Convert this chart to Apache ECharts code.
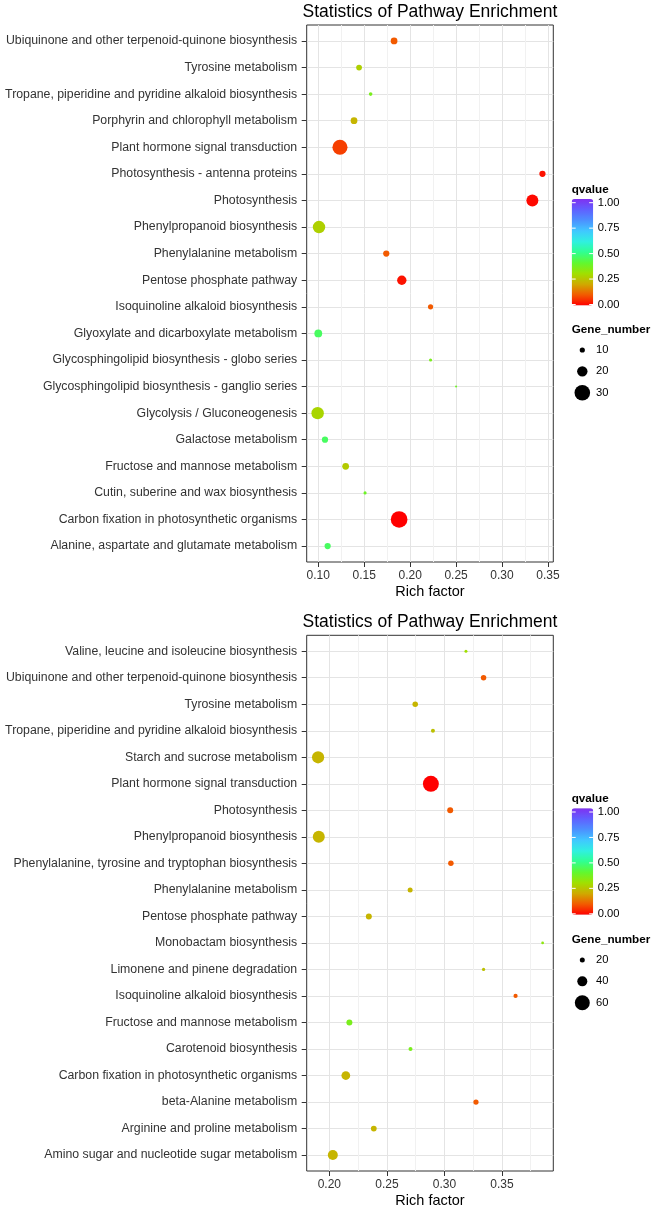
<!DOCTYPE html>
<html><head><meta charset="utf-8">
<script src="https://cdn.jsdelivr.net/npm/echarts@6/dist/echarts.min.js"></script>
<style>html,body{margin:0;padding:0;background:#fff}#c{width:655px;height:1209px}</style>
</head><body><div id="c"></div>
<script>
// ---------- DATA ----------
const titleText = 'Statistics of Pathway Enrichment';
const xName = 'Rich factor';
const qName = 'qvalue';
const sizeName = 'Gene_number';

const cats1 = [
  'Ubiquinone and other terpenoid-quinone biosynthesis',
  'Tyrosine metabolism',
  'Tropane, piperidine and pyridine alkaloid biosynthesis',
  'Porphyrin and chlorophyll metabolism',
  'Plant hormone signal transduction',
  'Photosynthesis - antenna proteins',
  'Photosynthesis',
  'Phenylpropanoid biosynthesis',
  'Phenylalanine metabolism',
  'Pentose phosphate pathway',
  'Isoquinoline alkaloid biosynthesis',
  'Glyoxylate and dicarboxylate metabolism',
  'Glycosphingolipid biosynthesis - globo series',
  'Glycosphingolipid biosynthesis - ganglio series',
  'Glycolysis / Gluconeogenesis',
  'Galactose metabolism',
  'Fructose and mannose metabolism',
  'Cutin, suberine and wax biosynthesis',
  'Carbon fixation in photosynthetic organisms',
  'Alanine, aspartate and glutamate metabolism'
];
const rich1  = [0.1825, 0.1444, 0.157, 0.1389, 0.1236, 0.344, 0.333, 0.1008, 0.174, 0.1909,
                0.2222, 0.100, 0.2222, 0.25, 0.0993, 0.1073, 0.1298, 0.1509, 0.188, 0.1102];
const q1     = [0.10, 0.27, 0.36, 0.22, 0.07, 0.02, 0.01, 0.27, 0.10, 0.02,
                0.10, 0.45, 0.36, 0.38, 0.28, 0.45, 0.26, 0.38, 0.00, 0.45];
const genes1 = [13, 11, 7, 13, 29, 12, 23, 24, 12, 18,
                10, 15, 6, 4, 24, 12, 13, 6, 32, 12];
const xTicks1 = [0.10, 0.15, 0.20, 0.25, 0.30, 0.35];
const xMinor1 = [0.125, 0.175, 0.225, 0.275, 0.325];
const sizeLegend1 = [10, 20, 30];

const cats2 = [
  'Valine, leucine and isoleucine biosynthesis',
  'Ubiquinone and other terpenoid-quinone biosynthesis',
  'Tyrosine metabolism',
  'Tropane, piperidine and pyridine alkaloid biosynthesis',
  'Starch and sucrose metabolism',
  'Plant hormone signal transduction',
  'Photosynthesis',
  'Phenylpropanoid biosynthesis',
  'Phenylalanine, tyrosine and tryptophan biosynthesis',
  'Phenylalanine metabolism',
  'Pentose phosphate pathway',
  'Monobactam biosynthesis',
  'Limonene and pinene degradation',
  'Isoquinoline alkaloid biosynthesis',
  'Fructose and mannose metabolism',
  'Carotenoid biosynthesis',
  'Carbon fixation in photosynthetic organisms',
  'beta-Alanine metabolism',
  'Arginine and proline metabolism',
  'Amino sugar and nucleotide sugar metabolism'
];
const rich2  = [0.3187, 0.334, 0.2746, 0.290, 0.1902, 0.2882, 0.305, 0.1908, 0.3056, 0.2702,
                0.2343, 0.3853, 0.334, 0.3618, 0.2174, 0.2705, 0.2143, 0.3274, 0.2386, 0.203];
const q2     = [0.30, 0.10, 0.22, 0.24, 0.22, 0.00, 0.10, 0.22, 0.10, 0.22,
                0.22, 0.33, 0.24, 0.10, 0.36, 0.36, 0.22, 0.10, 0.22, 0.22];
const genes2 = [12, 22, 22, 16, 49, 64, 24, 48, 22, 20,
                24, 11, 13, 17, 24, 16, 35, 21, 23, 40];
const xTicks2 = [0.20, 0.25, 0.30, 0.35];
const xMinor2 = [0.225, 0.275, 0.325, 0.375];
const sizeLegend2 = [20, 40, 60];

const qTicks = [0, 0.25, 0.5, 0.75, 1];

// ---------- STYLE / LAYOUT ----------
const FONT = '"Liberation Sans", Arial, Helvetica, sans-serif';
const qColors = ['#FF0000','#F25A00','#CFAA00','#A0E000','#60F830','#30FF90',
                 '#30F0E0','#40C8FF','#4C90FF','#6060FF','#8030F0'];
const gridLeft = 306.7, gridWidth = 246.6;
const panels = [
  { cats: cats1, rich: rich1, q: q1, genes: genes1, xTicks: xTicks1, xMinor: xMinor1,
    sizeLegend: sizeLegend1, xmin: 0.0874, xmax: 0.3558, k: 0.52,
    top: 25, height: 537, titleY: 12, qTitleY: 189.5, barTop: 199, sizeTitleY: 330, sizeY0: 350 },
  { cats: cats2, rich: rich2, q: q2, genes: genes2, xTicks: xTicks2, xMinor: xMinor2,
    sizeLegend: sizeLegend2, xmin: 0.1803, xmax: 0.3946, k: 0.25,
    top: 635.3, height: 536.4, titleY: 622, qTitleY: 799, barTop: 808.3, sizeTitleY: 939.3, sizeY0: 960 }
];
const barLeft = 571.7, barW = 21.5, barH = 106.5;

const grids = [], xAxes = [], yAxes = [], series = [], visualMaps = [], graphics = [];
panels.forEach((p, pi) => {
  grids.push({ left: gridLeft, top: p.top, width: gridWidth, height: p.height, show: true,
    backgroundColor: '#fff', borderColor: '#333', borderWidth: 1 });
  const idx = p.cats.map((_, i) => i);
  xAxes.push({
    type: 'value', gridIndex: pi, min: p.xmin, max: p.xmax, position: 'bottom',
    axisLine: { show: false, onZero: false },
    axisTick: { show: true, customValues: p.xTicks, length: 5, lineStyle: { color: '#333' } },
    axisLabel: { customValues: p.xTicks, formatter: v => (+v).toFixed(2), fontSize: 12,
      color: '#333', margin: 8, fontFamily: FONT },
    splitLine: { show: true, customValues: p.xTicks, lineStyle: { color: '#E4E4E4', width: 1 } },
    name: xName, nameLocation: 'middle', nameGap: 22,
    nameTextStyle: { fontSize: 14.5, color: '#000', fontFamily: FONT }
  });
  xAxes.push({
    type: 'value', gridIndex: pi, min: p.xmin, max: p.xmax, position: 'top',
    axisLine: { show: false, onZero: false },
    axisTick: { show: false, customValues: p.xMinor },
    axisLabel: { show: false, customValues: p.xMinor },
    splitLine: { show: true, customValues: p.xMinor, lineStyle: { color: '#F1F1F1', width: 1 } }
  });
  yAxes.push({
    type: 'value', gridIndex: pi, min: -0.6, max: p.cats.length - 0.4, inverse: true,
    axisLine: { show: false, onZero: false },
    axisTick: { show: true, customValues: idx, length: 5, lineStyle: { color: '#333' } },
    axisLabel: { customValues: idx, formatter: v => p.cats[Math.round(v)], fontSize: 12.3,
      color: '#333', margin: 9.5, fontFamily: FONT },
    splitLine: { show: true, customValues: idx, lineStyle: { color: '#E4E4E4', width: 1 } }
  });
  series.push({
    type: 'scatter', xAxisIndex: pi * 2, yAxisIndex: pi,
    data: p.rich.map((r, i) => [r, i, p.q[i], p.genes[i]]),
    symbol: 'circle',
    symbolSize: (v => v[3] * p.k),
    itemStyle: { opacity: 1 },
    emphasis: { disabled: true }
  });
  visualMaps.push({
    type: 'continuous', seriesIndex: pi, dimension: 2, min: 0, max: 1,
    inRange: { color: qColors }, calculable: false, hoverLink: false,
    left: barLeft, top: p.barTop, itemWidth: barW, itemHeight: barH, padding: 0,
    orient: 'vertical', text: null
  });
  graphics.push({ type: 'text', x: gridLeft + gridWidth / 2, y: p.titleY,
    style: { text: titleText, font: '17.5px ' + FONT, fill: '#000', textAlign: 'center', textVerticalAlign: 'middle' } });
  graphics.push({ type: 'text', x: barLeft, y: p.qTitleY,
    style: { text: qName, font: 'bold 11.7px ' + FONT, fill: '#000', textAlign: 'left', textVerticalAlign: 'middle' } });
  qTicks.forEach(v => {
    const y = p.barTop + 3.7 + (1 - v) * (barH - 4.7);
    graphics.push({ type: 'line', z: 100, shape: { x1: barLeft, y1: y, x2: barLeft + 4, y2: y },
      style: { stroke: '#fff', lineWidth: 1 } });
    graphics.push({ type: 'line', z: 100, shape: { x1: barLeft + barW - 4, y1: y, x2: barLeft + barW, y2: y },
      style: { stroke: '#fff', lineWidth: 1 } });
    graphics.push({ type: 'text', x: barLeft + barW + 4.5, y: y,
      style: { text: v.toFixed(2), font: '11.2px ' + FONT, fill: '#000', textAlign: 'left', textVerticalAlign: 'middle' } });
  });
  graphics.push({ type: 'text', x: barLeft, y: p.sizeTitleY,
    style: { text: sizeName, font: 'bold 11.7px ' + FONT, fill: '#000', textAlign: 'left', textVerticalAlign: 'middle' } });
  p.sizeLegend.forEach((g, i) => {
    const y = p.sizeY0 + i * 21.35;
    graphics.push({ type: 'circle', shape: { cx: 582.3, cy: y, r: g * p.k / 2 }, style: { fill: '#000' } });
    graphics.push({ type: 'text', x: 596, y: y,
      style: { text: String(g), font: '11.2px ' + FONT, fill: '#000', textAlign: 'left', textVerticalAlign: 'middle' } });
  });
});

const chart = echarts.init(document.getElementById('c'), null, { renderer: 'canvas' });
chart.setOption({
  animation: false,
  backgroundColor: '#fff',
  textStyle: { fontFamily: FONT },
  grid: grids, xAxis: xAxes, yAxis: yAxes, series: series,
  visualMap: visualMaps, graphic: graphics
});
</script></body></html>
